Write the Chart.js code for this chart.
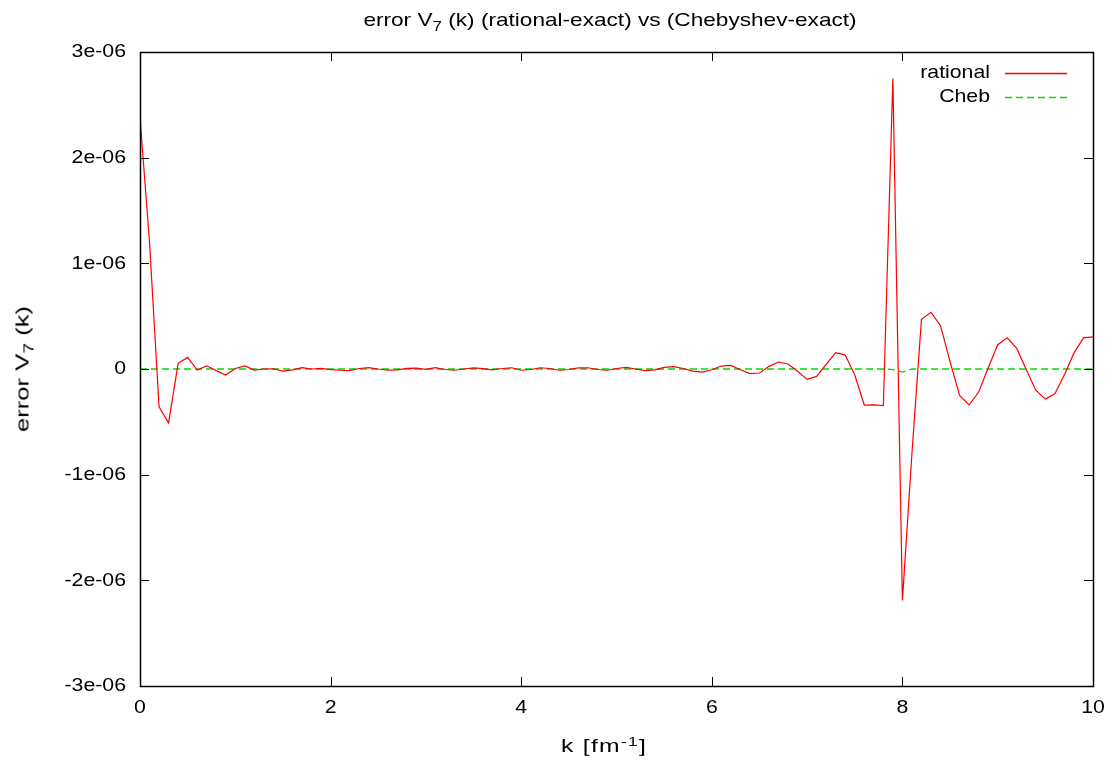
<!DOCTYPE html>
<html>
<head>
<meta charset="utf-8">
<script src="https://cdn.jsdelivr.net/npm/chart.js@4.4.1/dist/chart.umd.min.js"></script>
<style>
  body { margin: 0; background: #fff; }
  #wrap { position: relative; width: 1117px; height: 766px; }
  #c { position: absolute; left: 0; top: 0; }
  .lbl {
    position: absolute;
    font-family: "Liberation Sans", Arial, sans-serif;
    font-size: 19px;
    color: #000;
    white-space: nowrap;
    line-height: 1;
  }
  .sub { position: relative; top: 0.35em; font-size: 75%; }
  .sup { position: relative; top: -0.45em; font-size: 70%; }
  #title { left: 610px; top: 19px; transform: translate(-50%, -50%) scaleX(1.19); }
  #xtitle { left: 604px; top: 745px; transform: translate(-50%, -50%) scaleX(1.3); letter-spacing: 1px; }
  #ytitle { left: 22px; top: 369px; transform: translate(-50%, -50%) rotate(-90deg) scaleX(1.35); }
</style>
</head>
<body>
<div id="wrap">
  <canvas id="c" width="1117" height="766"></canvas>
  <div class="lbl" id="title">error V<span class="sub">7</span> (k) (rational-exact) vs (Chebyshev-exact)</div>
  <div class="lbl" id="xtitle">k [fm<span class="sup">-1</span>]</div>
  <div class="lbl" id="ytitle">error V<span class="sub">7</span> (k)</div>
</div>
<script>
// k grid [fm^-1]
const kValues = [
  0.0, 0.1, 0.2, 0.3, 0.4, 0.5, 0.6, 0.7, 0.8, 0.9,
  1.0, 1.1, 1.2, 1.3, 1.4, 1.5, 1.6, 1.7, 1.8, 1.9,
  2.0, 2.1, 2.2, 2.3, 2.4, 2.5, 2.6, 2.7, 2.8, 2.9,
  3.0, 3.1, 3.2, 3.3, 3.4, 3.5, 3.6, 3.7, 3.8, 3.9,
  4.0, 4.1, 4.2, 4.3, 4.4, 4.5, 4.6, 4.7, 4.8, 4.9,
  5.0, 5.1, 5.2, 5.3, 5.4, 5.5, 5.6, 5.7, 5.8, 5.9,
  6.0, 6.1, 6.2, 6.3, 6.4, 6.5, 6.6, 6.7, 6.8, 6.9,
  7.0, 7.1, 7.2, 7.3, 7.4, 7.5, 7.6, 7.7, 7.8, 7.9,
  8.0, 8.1, 8.2, 8.3, 8.4, 8.5, 8.6, 8.7, 8.8, 8.9,
  9.0, 9.1, 9.2, 9.3, 9.4, 9.5, 9.6, 9.7, 9.8, 9.9,
  10.0
];

// errors in units of 1e-06
const rationalErr = [
  2.38, 1.2, -0.357, -0.51, 0.054, 0.11, -0.01, 0.03, -0.015, -0.057,
  0.005, 0.03, -0.01, 0.0, 0.002, -0.02, -0.008, 0.013, 0.0, 0.005,
  -0.005, -0.012, -0.015, 0.005, 0.013, 0.0, -0.01, -0.008, 0.005, 0.008,
  -0.003, 0.012, -0.005, -0.012, 0.0, 0.01, 0.003, -0.008, 0.005, 0.012,
  -0.012, -0.005, 0.012, 0.005, -0.012, -0.005, 0.01, 0.012, -0.005, -0.012,
  0.005, 0.015, 0.0, -0.016, -0.008, 0.015, 0.022, 0.005, -0.02, -0.03,
  -0.007, 0.028, 0.034, -0.007, -0.044, -0.038, 0.025, 0.066, 0.047, -0.022,
  -0.098, -0.07, 0.044, 0.154, 0.132, -0.057, -0.341, -0.34, -0.347, 2.75,
  -2.19, -0.8, 0.47, 0.536, 0.41, 0.07, -0.25, -0.34, -0.22, 0.01,
  0.23, 0.295, 0.195, -0.006, -0.2, -0.285, -0.235, -0.055, 0.15, 0.295,
  0.305
];

const chebErr = [
  0.0, 0.0, 0.0, 0.0, 0.0, 0.0, 0.0, 0.0, 0.0, 0.0,
  0.0, 0.0, 0.0, 0.0, 0.0, 0.0, 0.0, 0.0, 0.0, 0.0,
  0.0, 0.0, 0.0, 0.0, 0.0, 0.0, 0.0, 0.0, 0.0, 0.0,
  0.0, 0.0, 0.0, 0.0, 0.0, 0.0, 0.0, 0.0, 0.0, 0.0,
  0.0, 0.0, 0.0, 0.0, 0.0, 0.0, 0.0, 0.0, 0.0, 0.0,
  0.0, 0.0, 0.0, 0.0, 0.0, 0.0, 0.0, 0.0, 0.0, 0.0,
  0.0, 0.0, 0.0, 0.0, 0.0, 0.0, 0.0, 0.0, 0.0, 0.0,
  0.0, 0.0, 0.0, 0.0, 0.0, 0.0, 0.0, 0.0, 0.0, -0.005,
  -0.03, 0.0, 0.0, 0.0, 0.0, 0.0, 0.0, 0.0, 0.0, 0.0,
  0.0, 0.0, 0.0, 0.0, 0.0, 0.0, 0.0, 0.0, 0.0, 0.0,
  0.0
];

const seriesNames = ["rational", "Cheb"];
const seriesColors = ["#ff0000", "#00dd00"];
const xTickValues = [0, 2, 4, 6, 8, 10];
const xTickLabels = ["0", "2", "4", "6", "8", "10"];
const yTickValues = [-3, -2, -1, 0, 1, 2, 3];
const yTickLabels = ["-3e-06", "-2e-06", "-1e-06", "0", "1e-06", "2e-06", "3e-06"];

const FONT = '19px "Liberation Sans", Arial, sans-serif';
const SX = 1.12; // the original text is a little wider than it is tall
const TICK = 9;
const DASH = [7, 4];

function stretchedText(ctx, str, px, py, align) {
    ctx.save();
    ctx.translate(px, py);
    ctx.scale(SX, 1);
    ctx.textAlign = align;
    ctx.fillText(str, 0, 0);
    ctx.restore();
}

// gnuplot style box: inward ticks on all four sides, labels, key
const gnuplotFrame = {
    id: "gnuplotFrame",
    afterDatasetsDraw(chart) {
        const { ctx, chartArea: a } = chart;
        const xs = chart.scales.x;
        const ys = chart.scales.y;
        ctx.save();
        ctx.strokeStyle = "#000";
        ctx.lineWidth = 1;

        ctx.beginPath();
        xTickValues.forEach((v) => {
            const px = Math.round(xs.getPixelForValue(v)) + 0.5;
            ctx.moveTo(px, a.bottom); ctx.lineTo(px, a.bottom - TICK);
            ctx.moveTo(px, a.top); ctx.lineTo(px, a.top + TICK);
        });
        yTickValues.forEach((v) => {
            const py = Math.round(ys.getPixelForValue(v)) + 0.5;
            ctx.moveTo(a.left, py); ctx.lineTo(a.left + TICK, py);
            ctx.moveTo(a.right, py); ctx.lineTo(a.right - TICK, py);
        });
        ctx.stroke();

        ctx.lineWidth = 1.5;
        ctx.strokeRect(Math.round(a.left) + 0.5, Math.round(a.top) + 0.5,
            Math.round(a.right - a.left), Math.round(a.bottom - a.top));

        ctx.fillStyle = "#000";
        ctx.font = FONT;
        ctx.textBaseline = "middle";
        yTickValues.forEach((v, i) => {
            stretchedText(ctx, yTickLabels[i], a.left - 14, ys.getPixelForValue(v), "right");
        });
        xTickValues.forEach((v, i) => {
            stretchedText(ctx, xTickLabels[i], xs.getPixelForValue(v), a.bottom + 22, "center");
        });

        // key
        seriesNames.forEach((name, i) => {
            const ly = 73 + i * 24;
            ctx.fillStyle = "#000";
            stretchedText(ctx, name, 990, ly, "right");
            ctx.strokeStyle = seriesColors[i];
            ctx.lineWidth = 1.3;
            ctx.setLineDash(i === 1 ? DASH : []);
            ctx.beginPath();
            ctx.moveTo(1005, ly + 0.5);
            ctx.lineTo(1067, ly + 0.5);
            ctx.stroke();
            ctx.setLineDash([]);
        });
        ctx.restore();
    },
};

const chart = new Chart(document.getElementById("c"), {
    type: "line",
    data: {
        datasets: [
            {
                label: seriesNames[0],
                data: kValues.map((k, i) => ({ x: k, y: rationalErr[i] })),
                borderColor: seriesColors[0],
                borderWidth: 1.2,
                pointRadius: 0,
                tension: 0,
            },
            {
                label: seriesNames[1],
                data: kValues.map((k, i) => ({ x: k, y: chebErr[i] })),
                borderColor: seriesColors[1],
                borderWidth: 1.3,
                borderDash: DASH,
                pointRadius: 0,
                tension: 0,
            },
        ],
    },
    options: {
        responsive: false,
        animation: false,
        layout: { padding: { left: 0, right: 24, top: 52, bottom: 0 } },
        plugins: { legend: { display: false }, title: { display: false }, tooltip: { enabled: false } },
        scales: {
            x: {
                type: "linear",
                min: 0,
                max: 10,
                grid: { display: false },
                border: { display: false },
                ticks: { display: false },
                afterFit: (s) => { s.height = 80; },
            },
            y: {
                type: "linear",
                min: -3,
                max: 3,
                grid: { display: false },
                border: { display: false },
                ticks: { display: false },
                afterFit: (s) => { s.width = 140; },
            },
        },
    },
    plugins: [gnuplotFrame],
});
</script>
</body>
</html>
